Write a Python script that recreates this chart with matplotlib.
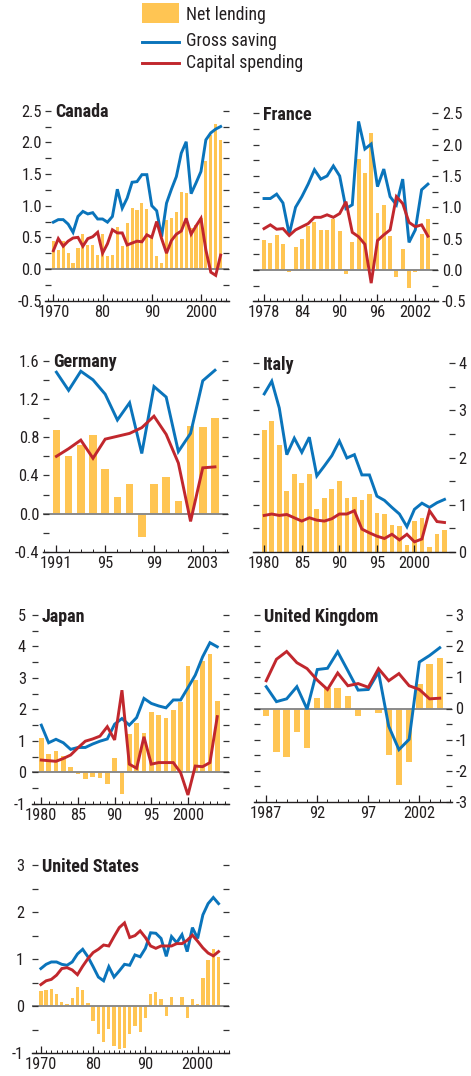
import matplotlib
matplotlib.use("Agg")
import matplotlib.pyplot as plt
from matplotlib import font_manager
from matplotlib.ticker import MultipleLocator, FixedLocator, FormatStrFormatter
from matplotlib.patches import Rectangle
from matplotlib.lines import Line2D

# ---------------- data ----------------
canada_years = list(range(1970, 2005))
canada_net = [0.44, 0.30, 0.44, 0.26, 0.10, 0.34, 0.56, 0.38, 0.38, 0.22,
              0.56, 0.20, 0.22, 0.67, 0.37, 0.72, 0.97, 0.94, 1.05, 0.95,
              0.49, 0.20, 0.09, 0.78, 0.81, 0.90, 1.22, 1.20, 0.65, 0.70,
              0.80, 1.70, 2.12, 2.29, 2.03]
canada_gross = [0.74, 0.78, 0.78, 0.71, 0.58, 0.83, 0.91, 0.87, 0.89, 0.79,
                0.79, 0.74, 0.83, 1.26, 0.96, 1.12, 1.37, 1.38, 1.49, 1.49,
                1.00, 0.92, 0.51, 1.04, 1.26, 1.46, 1.83, 2.01, 1.19, 1.36,
                1.54, 2.04, 2.15, 2.21, 2.25]
canada_cap = [0.29, 0.48, 0.36, 0.44, 0.49, 0.50, 0.36, 0.48, 0.51, 0.58,
              0.25, 0.40, 0.62, 0.57, 0.57, 0.38, 0.41, 0.44, 0.43, 0.54,
              0.50, 0.75, 0.48, 0.25, 0.45, 0.55, 0.60, 0.80, 0.55, 0.68,
              0.80, 0.30, -0.05, -0.10, 0.22]

france_years = list(range(1978, 2005))
france_net = [0.48, 0.43, 0.56, 0.41, -0.03, 0.37, 0.49, 0.70, 0.77, 0.64,
              0.64, 0.82, 0.62, -0.07, 0.45, 1.77, 1.55, 2.18, 0.91, 1.04,
              0.55, -0.12, 0.34, -0.28, -0.04, 0.57, 0.81]
france_gross = [1.14, 1.14, 1.21, 1.07, 0.57, 1.00, 1.17, 1.37, 1.60, 1.45,
                1.50, 1.66, 1.50, 0.98, 1.04, 2.37, 1.93, 2.01, 1.33, 1.61,
                1.17, 1.04, 1.45, 0.44, 0.64, 1.28, 1.37]
france_cap = [0.66, 0.72, 0.65, 0.66, 0.55, 0.64, 0.69, 0.74, 0.84, 0.84,
              0.88, 0.84, 0.90, 1.09, 0.60, 0.53, 0.41, -0.21, 0.47, 0.56,
              0.64, 1.17, 1.06, 0.76, 0.69, 0.72, 0.54]

germany_years = list(range(1991, 2005))
germany_net = [0.88, 0.60, 0.72, 0.82, 0.47, 0.17, 0.31, -0.24, 0.31, 0.38,
               0.13, 0.92, 0.91, 1.00]
germany_gross = [1.48, 1.29, 1.49, 1.40, 1.25, 0.98, 1.16, 0.63, 1.33, 1.22,
                 0.65, 0.84, 1.39, 1.50]
germany_cap = [0.60, 0.68, 0.77, 0.58, 0.78, 0.81, 0.84, 0.90, 1.02, 0.83,
               0.53, -0.08, 0.48, 0.49]

italy_years = list(range(1980, 2005))
italy_net = [2.59, 2.78, 2.27, 1.29, 1.65, 1.45, 1.65, 0.90, 1.14, 1.33,
             1.50, 1.14, 1.16, 1.10, 1.23, 0.82, 0.81, 0.57, 0.55, 0.14,
             0.65, 0.72, 0.09, 0.38, 0.46]
italy_gross = [3.35, 3.62, 3.05, 2.06, 2.41, 2.11, 2.43, 1.61, 1.82, 2.04,
               2.35, 1.99, 2.06, 1.63, 1.63, 1.18, 1.09, 0.94, 0.80, 0.53,
               0.90, 1.03, 0.94, 1.04, 1.11]
italy_cap = [0.77, 0.80, 0.77, 0.79, 0.72, 0.65, 0.72, 0.67, 0.65, 0.70,
             0.80, 0.80, 0.87, 0.48, 0.40, 0.33, 0.28, 0.37, 0.25, 0.37,
             0.21, 0.27, 0.87, 0.64, 0.62]

japan_years = list(range(1980, 2005))
japan_net = [1.10, 0.58, 0.68, 0.53, 0.17, -0.04, -0.22, -0.14, -0.17, -0.38,
             0.46, -0.70, 1.22, 1.57, 1.24, 1.92, 1.82, 1.74, 1.98, 2.25,
             3.38, 2.93, 3.53, 3.76, 2.26]
japan_gross = [1.50, 0.94, 1.05, 0.94, 0.73, 0.79, 0.79, 0.90, 0.99, 1.06,
               1.53, 1.71, 1.50, 1.74, 2.35, 2.19, 2.11, 2.05, 2.30, 2.30,
               2.69, 3.09, 3.67, 4.12, 3.99]
japan_cap = [0.39, 0.37, 0.35, 0.44, 0.55, 0.78, 0.99, 1.06, 1.15, 1.45,
             1.03, 2.61, 0.26, 0.13, 1.13, 0.26, 0.31, 0.31, 0.31, -0.01,
             -0.72, 0.20, 0.18, 0.31, 1.77]

uk_years = list(range(1987, 2005))
uk_net = [-0.23, -1.38, -1.56, -0.76, -1.27, 0.34, 0.67, 0.66, 0.40, -0.25,
          -0.06, -0.16, -1.49, -2.44, -1.72, 0.80, 1.42, 1.62]
uk_gross = [0.70, 0.22, 0.31, 0.70, -0.02, 1.25, 1.29, 1.82, 1.21, 0.59,
            0.61, 1.17, -0.57, -1.32, -0.99, 1.49, 1.70, 1.95]
uk_cap = [0.89, 1.58, 1.83, 1.47, 1.28, 0.91, 0.61, 1.14, 0.73, 0.80,
          0.68, 1.28, 0.89, 1.12, 0.73, 0.61, 0.31, 0.33]

us_years = list(range(1970, 2005))
us_net = [0.32, 0.34, 0.36, 0.27, 0.09, 0.04, 0.17, 0.41, 0.34, 0.06,
          -0.31, -0.60, -0.77, -0.48, -0.84, -0.90, -0.89, -0.60, -0.41, -0.55,
          -0.26, 0.26, 0.30, 0.15, -0.21, 0.20, 0.02, 0.20, -0.26, 0.15,
          0.04, 0.60, 0.98, 1.21, 1.04]
us_gross = [0.80, 0.89, 0.94, 0.94, 0.89, 0.87, 0.94, 1.11, 1.21, 1.05,
            0.84, 0.62, 0.54, 0.84, 0.62, 0.75, 0.89, 0.87, 1.09, 1.05,
            1.23, 1.56, 1.55, 1.44, 1.06, 1.48, 1.35, 1.52, 1.16, 1.67,
            1.44, 1.94, 2.18, 2.31, 2.18]
us_cap = [0.46, 0.54, 0.57, 0.66, 0.80, 0.82, 0.77, 0.67, 0.85, 1.01,
          1.14, 1.21, 1.30, 1.28, 1.48, 1.67, 1.77, 1.46, 1.50, 1.60,
          1.46, 1.28, 1.23, 1.28, 1.28, 1.28, 1.33, 1.33, 1.40, 1.51,
          1.38, 1.24, 1.13, 1.07, 1.16]

legend_labels = ["Net lending", "Gross saving", "Capital spending"]

# ---------------- style ----------------
avail = {f.name for f in font_manager.fontManager.ttflist}
FONT = next((f for f in ['Liberation Sans Narrow', 'Roboto Condensed',
                         'Arial Narrow', 'Liberation Sans'] if f in avail), 'DejaVu Sans')
plt.rcParams['font.family'] = [FONT, 'DejaVu Sans']
plt.rcParams['axes.unicode_minus'] = False

BAR = '#FFC553'
BLUE = '#0A74BB'
RED = '#C1272D'
TXT = '#231F20'
FS = 11.8
TFS = 13
LFS = 12.8

W, H = 471, 1076
fig = plt.figure(figsize=(W / 100, H / 100), dpi=100)

panels = [
    dict(name='Canada', years=canada_years, net=canada_net, gross=canada_gross, cap=canada_cap,
         box=(45, 229, 110.7, 300.7), ylim=(-0.5, 2.5), ymaj=0.5, ymin=0.25, fmt='%.1f',
         side='left', pad=3, xlim=(1968.3, 2005.7), xmaj=[1970, 1980, 1990, 2000],
         xlab=['1970', '80', '90', '2000'], xminor=True),
    dict(name='France', years=france_years, net=france_net, gross=france_gross, cap=france_cap,
         box=(253, 438, 113.3, 301.3), ylim=(-0.5, 2.5), ymaj=0.5, ymin=0.25, fmt='%.1f',
         side='right', pad=4, xlim=(1976.25, 2005.6), xmaj=[1978, 1984, 1990, 1996, 2002],
         xlab=['1978', '84', '90', '96', '2002'], xminor=True),
    dict(name='Germany', years=germany_years, net=germany_net, gross=germany_gross, cap=germany_cap,
         box=(43, 228, 360.7, 552), ylim=(-0.4, 1.6), ymaj=0.4, ymin=0.2, fmt='%.1f',
         side='left', pad=4, xlim=(1989.9, 2005.07), xmaj=[1991, 1995, 1999, 2003],
         xlab=['1991', '95', '99', '2003'], xminor=True),
    dict(name='Italy', years=italy_years, net=italy_net, gross=italy_gross, cap=italy_cap,
         box=(253, 455, 363.3, 551.7), ylim=(0, 4), ymaj=1, ymin=0.5, fmt='%d',
         side='right', pad=3.5, xlim=(1978.5, 2005.4), xmaj=[1980, 1985, 1990, 1995, 2000],
         xlab=['1980', '85', '90', '95', '2000'], xminor=False),
    dict(name='Japan', years=japan_years, net=japan_net, gross=japan_gross, cap=japan_cap,
         box=(32, 229, 615, 803.8), ylim=(-1, 5), ymaj=1, ymin=0.5, fmt='%d',
         side='left', pad=6, xlim=(1978.73, 2005.6), xmaj=[1980, 1985, 1990, 1995, 2000],
         xlab=['1980', '85', '90', '95', '2000'], xminor=True),
    dict(name='United Kingdom', years=uk_years, net=uk_net, gross=uk_gross, cap=uk_cap,
         box=(254, 452, 615, 802), ylim=(-3, 3), ymaj=1, ymin=0.5, fmt='%d',
         side='right', pad=3.5, xlim=(1985.8, 2005.2), xmaj=[1987, 1992, 1997, 2002],
         xlab=['1987', '92', '97', '2002'], xminor=True),
    dict(name='United States', years=us_years, net=us_net, gross=us_gross, cap=us_cap,
         box=(32, 229, 865, 1053.3), ylim=(-1, 3), ymaj=1, ymin=0.5, fmt='%d',
         side='left', pad=8, xlim=(1968.3, 2006.0), xmaj=[1970, 1980, 1990, 2000],
         xlab=['1970', '80', '90', '2000'], xminor=True),
]

for p in panels:
    x0, x1, yt, yb = p['box']
    ax = fig.add_axes([x0 / W, 1 - yb / H, (x1 - x0) / W, (yb - yt) / H])
    ax.patch.set_alpha(0)
    ax.bar(p['years'], p['net'], width=0.63, color=BAR, zorder=1, linewidth=0)
    if p['ylim'][0] < 0:
        ax.axhline(0, color='#8A8A8A', lw=1.4, zorder=1.5)
    ax.plot(p['years'], p['gross'], color=BLUE, lw=2.1, zorder=3, solid_joinstyle='miter')
    ax.plot(p['years'], p['cap'], color=RED, lw=2.1, zorder=3, solid_joinstyle='miter')
    ax.set_xlim(*p['xlim'])
    ax.set_ylim(*p['ylim'])
    for s in ['top', 'left', 'right']:
        ax.spines[s].set_visible(False)
    ax.spines['bottom'].set_color('#231F20')
    ax.spines['bottom'].set_linewidth(1.0)
    ax.yaxis.set_major_locator(MultipleLocator(p['ymaj']))
    ax.yaxis.set_minor_locator(MultipleLocator(p['ymin']))
    ax.yaxis.set_major_formatter(FormatStrFormatter(p['fmt']))
    left = p['side'] == 'left'
    ax.tick_params(axis='y', which='both', direction='in', left=True, right=True,
                   labelleft=left, labelright=not left, length=4, width=0.9,
                   color='#333333', labelsize=FS, labelcolor=TXT, pad=p['pad'] * 0.72)
    ax.xaxis.set_major_locator(FixedLocator(p['xmaj']))
    ax.set_xticklabels(p['xlab'])
    if p['xminor']:
        ax.xaxis.set_minor_locator(MultipleLocator(1))
    else:
        ax.xaxis.set_minor_locator(FixedLocator([]))
    ax.tick_params(axis='x', which='major', direction='in', length=5, width=0.9,
                   color='#231F20', labelsize=FS, labelcolor=TXT, pad=3)
    ax.tick_params(axis='x', which='minor', direction='in', length=2.5, width=0.7,
                   color='#231F20')
    ax.annotate(p['name'], xy=(0, 1), xycoords='axes fraction', xytext=(7.2, -4.8),
                textcoords='offset points', ha='left', va='baseline',
                fontsize=TFS, fontweight='bold', color=TXT, zorder=5)

# ---------------- legend ----------------
lax = fig.add_axes([0, 0, 1, 1], zorder=-1)
lax.set_xlim(0, W)
lax.set_ylim(H, 0)
lax.axis('off')
lax.add_patch(Rectangle((142, 3), 37, 20, color=BAR, lw=0))
lax.add_line(Line2D([142, 179], [42, 42], color=BLUE, lw=2.1))
lax.add_line(Line2D([142, 179], [63, 63], color=RED, lw=2.1))
for lab, yb in zip(legend_labels, [20, 46.5, 68.5]):
    lax.text(186, yb, lab, fontsize=LFS, color=TXT, ha='left', va='baseline')

fig.savefig('out.png', dpi=100)
